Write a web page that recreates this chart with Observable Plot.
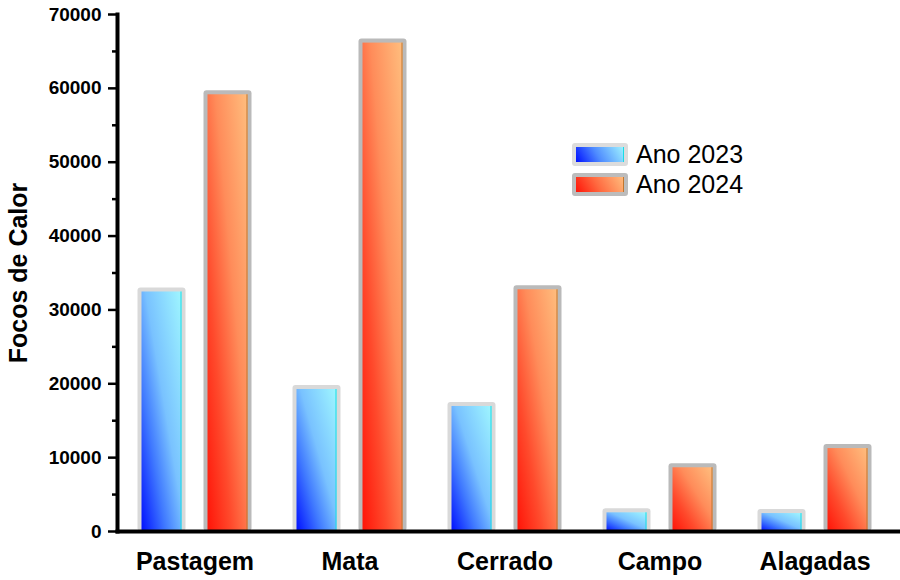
<!DOCTYPE html>
<html>
<head>
<meta charset="utf-8">
<script src="https://cdn.jsdelivr.net/npm/d3@7"></script>
<script src="https://cdn.jsdelivr.net/npm/@observablehq/plot@0.6"></script>
<style>
  html, body { margin: 0; padding: 0; background: #fff; }
  #wrap { position: relative; width: 900px; height: 580px; font-family: "Liberation Sans", Arial, sans-serif; }
  .leg { position: absolute; left: 572px; display: flex; align-items: center; }
  .sw { width: 48px; height: 15px; border: 4px solid #d9d9d9; border-radius: 3px; box-sizing: content-box; }
  .lt { margin-left: 8px; font-size: 25px; color: #000; line-height: 25px; }
</style>
</head>
<body>
<div id="wrap"></div>
<script>
const categories = ["Pastagem", "Mata", "Cerrado", "Campo", "Alagadas"];
const years = ["Ano 2023", "Ano 2024"];
const v2023 = [32700, 19500, 17200, 2800, 2700];
const v2024 = [59400, 66400, 33000, 8900, 11500];
const yTicks = [0, 10000, 20000, 30000, 40000, 50000, 60000, 70000];
const yMinor = [5000, 15000, 25000, 35000, 45000, 55000, 65000];

const d23 = categories.map((c, i) => ({cat: c, value: v2023[i]}));
const d24 = categories.map((c, i) => ({cat: c, value: v2024[i]}));

const NS = "http://www.w3.org/2000/svg";
function defs() {
  const g = document.createElementNS(NS, "g");
  g.innerHTML = `<defs>
    <linearGradient id="gBlue" x1="0" y1="1" x2="1" y2="0">
      <stop offset="0" stop-color="#0010ff"/>
      <stop offset="0.3" stop-color="#3f78ff"/>
      <stop offset="0.55" stop-color="#79c2ff"/>
      <stop offset="1" stop-color="#9ff6ff"/>
    </linearGradient>
    <linearGradient id="gRed" x1="0" y1="1" x2="1" y2="0">
      <stop offset="0" stop-color="#ff1408"/>
      <stop offset="0.3" stop-color="#ff4a2c"/>
      <stop offset="0.6" stop-color="#ff8c5a"/>
      <stop offset="1" stop-color="#ffbe7e"/>
    </linearGradient>
  </defs>`;
  return g;
}

const bw = 155;
const outerInset = (bw - 48) / 2;
const innerInset = (bw - 40) / 2;
const font = "Liberation Sans, Arial, sans-serif";

function barSet(data, dx, border, grad, edge) {
  return [
    Plot.barY(data, {x: "cat", y: "value", dx, insetLeft: outerInset, insetRight: outerInset, insetTop: -2, fill: border, rx: 3}),
    Plot.barY(data, {x: "cat", y: "value", dx, insetLeft: innerInset, insetRight: innerInset, insetTop: 2, fill: grad}),
    Plot.barY(data, {x: "cat", y: "value", dx, insetLeft: innerInset + 39, insetRight: innerInset, insetTop: 2, fill: edge})
  ];
}

const chart = Plot.plot({
  width: 900,
  height: 580,
  marginLeft: 117,
  marginRight: 0,
  marginTop: 14,
  marginBottom: 49,
  style: {fontFamily: font, background: "#fff", color: "#000"},
  x: {domain: categories, range: [117, 892], padding: 0, label: null},
  y: {domain: [0, 70000], label: null},
  marks: [
    defs,
    ...barSet(d23, -33, "#d9d9d9", "url(#gBlue)", "#18dde6"),
    ...barSet(d24, 33, "#bababa", "url(#gRed)", "#c2762e"),
    Plot.axisY({ticks: yTicks, tickSize: 9, tickPadding: 7, tickFormat: d3.format("d"), fontSize: 19, fontWeight: "bold", strokeWidth: 2.5, label: null}),
    Plot.axisY({ticks: yMinor, tickSize: 5, text: null, strokeWidth: 2.5, label: null}),
    Plot.axisX({tickSize: 0, tickPadding: 21, fontSize: 25, fontWeight: "bold", label: null}),
    Plot.frame({anchor: "left", strokeWidth: 4}),
    Plot.frame({anchor: "bottom", strokeWidth: 4}),
    Plot.text(["Focos de Calor"], {frameAnchor: "left", dx: -99, rotate: -90, textAnchor: "middle", lineAnchor: "middle", fontSize: 25, fontWeight: "bold"})
  ]
});

const wrap = document.getElementById("wrap");
wrap.appendChild(chart);

const legendItems = [
  {label: years[0], border: "#dcdcdc", bg: "linear-gradient(60deg, #0010ff 0%, #4f8cff 45%, #a0f4ff 100%)", edge: "#18dde6", top: 142},
  {label: years[1], border: "#bcbcbc", bg: "linear-gradient(60deg, #ff1408 0%, #ff6a40 45%, #ffbe7e 100%)", edge: "#c2762e", top: 172}
];
for (const it of legendItems) {
  const row = document.createElement("div");
  row.className = "leg";
  row.style.top = it.top + "px";
  const sw = document.createElement("div");
  sw.className = "sw";
  sw.style.borderColor = it.border;
  sw.style.background = it.bg;
  sw.style.boxShadow = `inset -1px 0 0 ${it.edge}`;
  const t = document.createElement("span");
  t.className = "lt";
  t.textContent = it.label;
  row.appendChild(sw);
  row.appendChild(t);
  wrap.appendChild(row);
}
</script>
</body>
</html>
